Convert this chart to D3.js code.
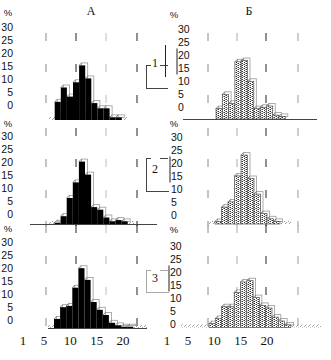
<!DOCTYPE html>
<html><head><meta charset="utf-8">
<script src="https://cdn.jsdelivr.net/npm/d3@7"></script>
<style>body{margin:0;background:#fff}svg{display:block}</style>
</head><body><svg id="c" width="331" height="360"></svg>
<script>
// ---- data (percent per size class) ----
const columnTitles = ["А", "Б"];
const groupLabels = ["1", "2", "3"];
const yTickValues = [0, 5, 10, 15, 20, 25, 30];
const xTickValues = [1, 5, 10, 15, 20];
const pctA1 = [7, 12.5, 9, 14.5, 21, 16, 6.5, 4.5, 4.5, 1, 1];
const pctA2 = [0.5, 3, 10, 16, 24, 19, 6.5, 5.5, 2.5, 1, 1.5, 1];
const pctA3 = [3.5, 8, 8.5, 15.5, 23, 18.5, 10, 7, 5, 2, 1, 0.5, 0.5];
const pctB1 = [4, 9.5, 6, 22, 22.5, 14.5, 4, 4.5, 5, 1.5, 1];
const pctB2 = [1, 6.5, 8.5, 18.5, 26.5, 17.5, 11.5, 4, 2, 1];
const pctB3 = [1.5, 3.5, 8, 8, 13.5, 17.5, 18, 11.5, 8.5, 7.5, 4, 2.5, 1];

// ---- layout ----
const PX = 2.6; // px per percent
const panels = [
  {values: pctA1, col: 0, row: 0, x0: 54.7, bw: 6.1, base: 120, zeroLab: 105, labX: 13, pctY: 13, floor: [[49, 55], [116, 128]], baseLine: null, dashStart: 33},
  {values: pctA2, col: 0, row: 1, x0: 54.5, bw: 6.1, base: 224, zeroLab: 214, labX: 13, pctY: 124, floor: [[49, 55], [127, 134]], baseLine: [30, 157], dashStart: 128},
  {values: pctA3, col: 0, row: 2, x0: 54, bw: 6.1, base: 328, zeroLab: 320, labX: 13, pctY: 229, floor: [[48, 54], [133, 147]], baseLine: [48, 147], dashStart: 225},
  {values: pctB1, col: 1, row: 0, x0: 216, bw: 6.3, base: 119, zeroLab: 107, labX: 178, pctY: 15, floor: [], baseLine: [183, 317], dashStart: 33},
  {values: pctB2, col: 1, row: 1, x0: 215, bw: 6.5, base: 224, zeroLab: 215, labX: 171, pctY: 124, floor: [[209, 215], [280, 291]], baseLine: null, dashStart: 128},
  {values: pctB3, col: 1, row: 2, x0: 209, bw: 6.3, base: 327.5, zeroLab: 324, labX: 170, pctY: 230, floor: [[181, 209], [291, 321]], baseLine: null, dashStart: 225}
];
const gridCols = [
  [{x: 46, c: "#888"}, {x: 76, c: "#222"}, {x: 106, c: "#bbb"}, {x: 137, c: "#222"}],
  [{x: 208, c: "#888"}, {x: 237, c: "#aaa"}, {x: 266, c: "#222"}, {x: 298, c: "#999"}]
];
const boxes = [
  {top: 65, bottom: 88, rTop: 45, rBot: 77, labY: 67, color: "#444", ext: 168, rightLine: true},
  {top: 158, bottom: 191, labY: 173, color: "#444", ext: 169, rightLine: false},
  {top: 270, bottom: 292, labY: 282, color: "#aaa", ext: 169, rightLine: false}
];
const xLabelScales = [
  d3.scaleLinear().domain([5, 20]).range([44, 123]),
  d3.scaleLinear().domain([5, 20]).range([188, 267])
];
const pctX = [8, 174];
const titleX = [91, 249];
const DX = 2.5, DY = -2.5;

const svg = d3.select("#c");
const defs = svg.append("defs");
const stip = defs.append("pattern").attr("id", "stip").attr("patternUnits", "userSpaceOnUse").attr("width", 4).attr("height", 4);
stip.append("rect").attr("width", 4).attr("height", 4).attr("fill", "#fff");
[[0,0],[2,1],[0,2],[2,3]].forEach(([a,b]) => stip.append("rect").attr("x", a).attr("y", b).attr("width", 1).attr("height", 1).attr("fill", "#333"));
[[3,0],[1,3],[1,1]].forEach(([a,b]) => stip.append("rect").attr("x", a).attr("y", b).attr("width", 1).attr("height", 1).attr("fill", "#999"));
const hatch = defs.append("pattern").attr("id", "hatch").attr("patternUnits", "userSpaceOnUse").attr("width", 4).attr("height", 3);
hatch.append("line").attr("x1", 0).attr("y1", 3).attr("x2", 3).attr("y2", 0).attr("stroke", "#888").attr("stroke-width", 0.8);

// titles
svg.selectAll("text.title").data(columnTitles).join("text")
  .attr("x", (d, i) => titleX[i]).attr("y", 15).attr("text-anchor", "middle")
  .attr("font-family", "'Liberation Serif', 'DejaVu Serif', serif").attr("font-size", 12).attr("fill", "#111").text(d => d);

panels.forEach(p => {
  const g = svg.append("g");
  const y = d3.scaleLinear().domain([0, 30]).range([p.base, p.base - 30 * PX]);
  const xb = d3.scaleLinear().domain([0, 1]).range([p.x0, p.x0 + p.bw]);
  const shift = p.base - p.zeroLab;
  const isB = p.col === 1;

  // dashed vertical grid
  gridCols[p.col].forEach(gc => {
    g.append("line").attr("x1", gc.x).attr("x2", gc.x).attr("y1", p.dashStart).attr("y2", p.base + 2)
      .attr("stroke", gc.c).attr("stroke-width", 1).attr("stroke-dasharray", "8,23");
  });

  // floor hatch & baseline
  p.floor.forEach(f => {
    g.append("rect").attr("x", f[0]).attr("y", p.base - 3).attr("width", f[1] - f[0]).attr("height", 3).attr("fill", "url(#hatch)");
  });
  if (p.baseLine) {
    g.append("line").attr("x1", p.baseLine[0]).attr("x2", p.baseLine[1]).attr("y1", p.base + 0.5).attr("y2", p.base + 0.5)
      .attr("stroke", "#444").attr("stroke-width", 1);
  }

  const idx = d3.range(p.values.length);
  // back faces (3D)
  g.selectAll("rect.back").data(idx).join("rect")
    .attr("x", i => xb(i) + DX).attr("y", i => y(p.values[i]) + DY)
    .attr("width", i => xb(i + 1) - xb(i)).attr("height", i => p.base - y(p.values[i]))
    .attr("fill", "#fff").attr("stroke", "#999").attr("stroke-width", 0.8);
  g.selectAll("line.slant").data(idx).join("line")
    .attr("x1", i => xb(i)).attr("y1", i => y(p.values[i]))
    .attr("x2", i => xb(i) + DX).attr("y2", i => y(p.values[i]) + DY)
    .attr("stroke", "#666").attr("stroke-width", 0.8);
  // front faces
  g.selectAll("rect.front").data(idx).join("rect")
    .attr("x", i => xb(i)).attr("y", i => y(p.values[i]))
    .attr("width", i => xb(i + 1) - xb(i)).attr("height", i => p.base - y(p.values[i]))
    .attr("fill", isB ? "url(#stip)" : "#000")
    .attr("stroke", isB ? "#555" : "none").attr("stroke-width", 0.7);

  // y tick labels (offset from the bar scale as in the original)
  g.selectAll("text.yt").data(yTickValues).join("text")
    .attr("x", p.labX).attr("y", v => y(v) - shift).attr("dy", "0.35em")
    .attr("text-anchor", isB ? "start" : "end")
    .attr("font-family", "'Liberation Sans', Arial, sans-serif").attr("font-size", 10.5).attr("fill", "#111")
    .text(v => v);
  g.append("text").attr("x", pctX[p.col]).attr("y", p.pctY).attr("dy", "0.35em").attr("text-anchor", "middle")
    .attr("font-family", "'Liberation Sans', Arial, sans-serif").attr("font-size", 9.5).attr("fill", "#111").text("%");

  if (isB) {
    // short vertical stroke beside 20 / 15 labels
    g.append("line").attr("x1", p.labX - 1).attr("x2", p.labX - 1)
      .attr("y1", y(22.5) - shift).attr("y2", y(12.5) - shift).attr("stroke", "#222").attr("stroke-width", 1);
  }
});

// group boxes
boxes.forEach((b, i) => {
  const g = svg.append("g").attr("stroke", b.color).attr("stroke-width", 1).attr("fill", "none");
  g.append("line").attr("x1", 146.5).attr("x2", 146.5).attr("y1", b.top).attr("y2", b.bottom);
  g.append("line").attr("x1", 146).attr("x2", 151).attr("y1", b.top + 0.5).attr("y2", b.top + 0.5);
  g.append("line").attr("x1", 160).attr("x2", 168).attr("y1", b.top + 0.5).attr("y2", b.top + 0.5);
  g.append("line").attr("x1", 146).attr("x2", b.ext).attr("y1", b.bottom + 0.5).attr("y2", b.bottom + 0.5);
  if (b.rightLine) {
    svg.append("line").attr("x1", 165.5).attr("x2", 165.5).attr("y1", b.rTop).attr("y2", b.rBot).attr("stroke", "#222").attr("stroke-width", 1);
  }
  svg.append("text").attr("x", 155).attr("y", b.labY).attr("text-anchor", "middle")
    .attr("font-family", "'Liberation Serif', 'DejaVu Serif', serif").attr("font-size", 12).attr("fill", "#111").text(groupLabels[i]);
});

// x labels
xLabelScales.forEach(sc => {
  svg.append("g").selectAll("text").data(xTickValues).join("text")
    .attr("x", v => sc(v)).attr("y", 345).attr("text-anchor", "middle")
    .attr("font-family", "'Liberation Serif', 'DejaVu Serif', serif").attr("font-size", 13).attr("fill", "#111")
    .text(v => v);
});
</script></body></html>
